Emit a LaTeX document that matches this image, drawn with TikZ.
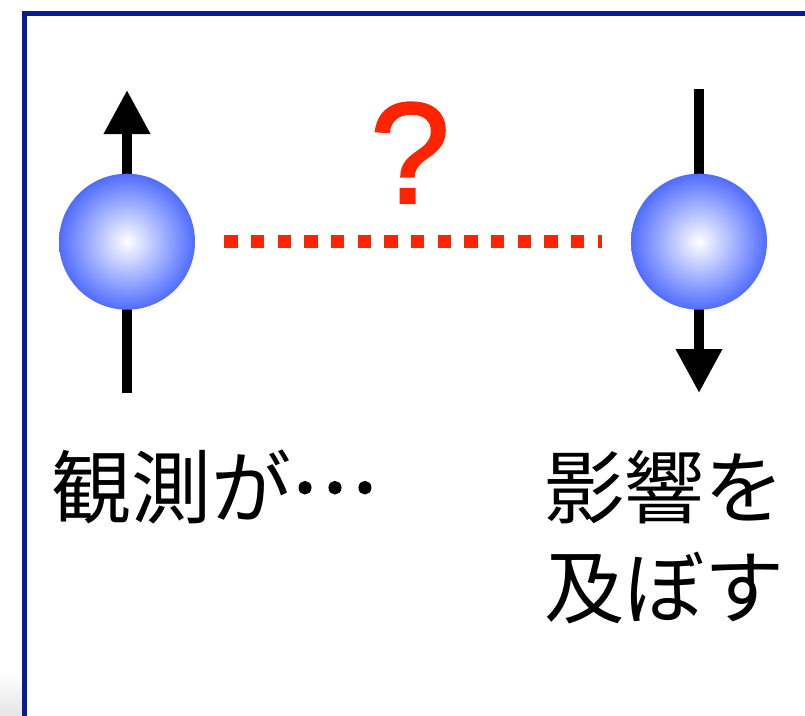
\documentclass[tikz,border=0pt]{standalone}
\usepackage{fontspec}
\newfontfamily\jpfont{Noto Sans CJK JP}
\newfontfamily\qfont[FakeBold=1.5]{Liberation Sans}
\usetikzlibrary{arrows.meta}
\definecolor{frameblue}{RGB}{12,28,150}
\definecolor{sphereblue}{RGB}{80,108,255}
\definecolor{qred}{RGB}{255,36,0}
% white centre fading to blue at the rim (rim sits at 25bp)
\pgfdeclareradialshading{spherefill}{\pgfpoint{0bp}{0bp}}{color(0bp)=(white); color(25bp)=(sphereblue); color(50bp)=(sphereblue)}

\begin{document}
\begin{tikzpicture}[x=0.75pt,y=-0.75pt,
  spin/.style={circle, minimum size=102pt, inner sep=0pt, shading=spherefill},
  spinaxis/.style={line width=7.5pt, -{Triangle[length=33pt,width=33pt]}},
  link/.style={qred, line width=10pt, dash pattern=on 10pt off 10pt,
    shorten <=21.75pt, shorten >=21.75pt},
  caption/.style={font=\jpfont\fontsize{60pt}{75pt}\selectfont, inner sep=0pt, align=left}]
\useasboundingbox (0,0) rectangle (805,715);

% soft shadow at the lower left corner
\fill[top color=white, bottom color=black!10] (0,672) rectangle (22,715);

% frame, running off the right and bottom edges
\begin{scope}
  \clip (0,0) rectangle (805,715);
  \draw[frameblue, line width=4pt] (24.5,13.2) rectangle (900,900);
\end{scope}

% spin up
\coordinate (uptail) at (127,393);
\coordinate (uphead) at (127,90);
\draw[spinaxis] (uptail) -- (uphead);
\node[spin] (up) at (127,241.7) {};

% spin down
\coordinate (dntail) at (699,89);
\coordinate (dnhead) at (699,393);
\draw[spinaxis] (dntail) -- (dnhead);
\node[spin] (down) at (699,241.7) {};

% unknown correlation
\draw[link] (up) -- (down);
\node[text=qred, font=\qfont\fontsize{108pt}{108pt}\selectfont, anchor=base, inner sep=0pt] (q) at (410,203) {?};

% captions (ellipsis set on the middle line, with heavier dots)
\node[caption, anchor=base west] (obs) at (51,517) {観測が\raisebox{0.31em}{\addfontfeature{FakeBold=3}…}};
\node[caption, anchor=base west] (eff) at (544,617) {影響を\\及ぼす};
\end{tikzpicture}
\end{document}
